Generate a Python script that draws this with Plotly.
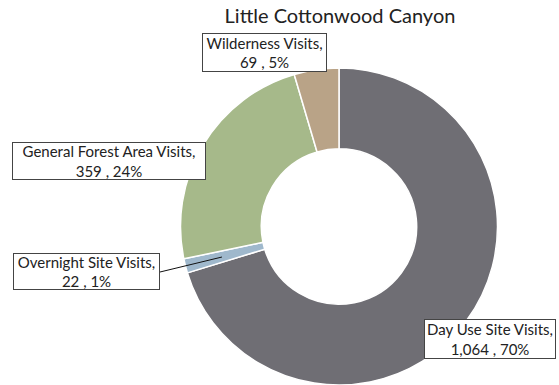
import math
import plotly.graph_objects as go

# Visits by type, Little Cottonwood Canyon
categories = ["Day Use Site Visits", "Overnight Site Visits",
              "General Forest Area Visits", "Wilderness Visits"]
visits = [1064, 22, 359, 69]
colors = ["#6f6e74", "#9fb8cc", "#a6b98a", "#b9a387"]

W, H = 559, 385
total = sum(visits)
pcts = [round(v / total * 100) for v in visits]

# Pie geometry (pixels)
cx, cy, R = 339, 227, 159
dom_x = [(cx - R) / W, (cx + R) / W]
dom_y = [max(0, (H - cy - R) / H), (H - cy + R) / H]

fig = go.Figure(go.Pie(
    labels=categories,
    values=visits,
    hole=0.49,
    sort=False,
    direction="clockwise",
    rotation=0,
    marker=dict(colors=colors, line=dict(color="white", width=1.5)),
    textinfo="none",
    hoverinfo="label+value+percent",
    domain=dict(x=dom_x, y=dom_y),
    showlegend=False,
))

# Label box centres and sizes (pixels)
label_box = {
    "Day Use Site Visits": (490, 339, 132, 40),
    "Overnight Site Visits": (86, 271, 147, 37),
    "General Forest Area Visits": (109, 161, 194, 38),
    "Wilderness Visits": (264, 53, 125, 39),
}

annotations = []
for name, v, p in zip(categories, visits, pcts):
    px, py, bw, bh = label_box[name]
    annotations.append(dict(
        text=f"{name},<br>{v:,} , {p}%",
        x=px / W, y=1 - py / H, xref="paper", yref="paper",
        xanchor="center", yanchor="middle", showarrow=False,
        width=bw - 2, height=bh - 2,
        font=dict(family="Lato", size=15, color="#222"),
        bgcolor="white", bordercolor="#444", borderwidth=1, borderpad=0,
        align="center", valign="middle",
    ))

# Leader line from the Overnight label to the middle of its slice
i = categories.index("Overnight Site Visits")
mid = (sum(visits[:i]) + visits[i] / 2) / total
theta = mid * 2 * math.pi
r = 0.76 * R
tx, ty = cx + r * math.sin(theta), cy - r * math.cos(theta)
shapes = [dict(type="line", xref="paper", yref="paper",
               x0=160 / W, y0=1 - 272 / H,
               x1=tx / W, y1=1 - ty / H,
               line=dict(color="#111", width=1))]

fig.update_layout(
    width=W, height=H,
    margin=dict(l=0, r=0, t=0, b=0),
    paper_bgcolor="white", plot_bgcolor="white",
    title=dict(text="Little Cottonwood Canyon", x=340 / W, xanchor="center",
               y=1 - 16 / H, yanchor="middle",
               font=dict(family="Lato", size=20, color="#222")),
    annotations=annotations,
    shapes=shapes,
)

fig.write_html("out.html")
